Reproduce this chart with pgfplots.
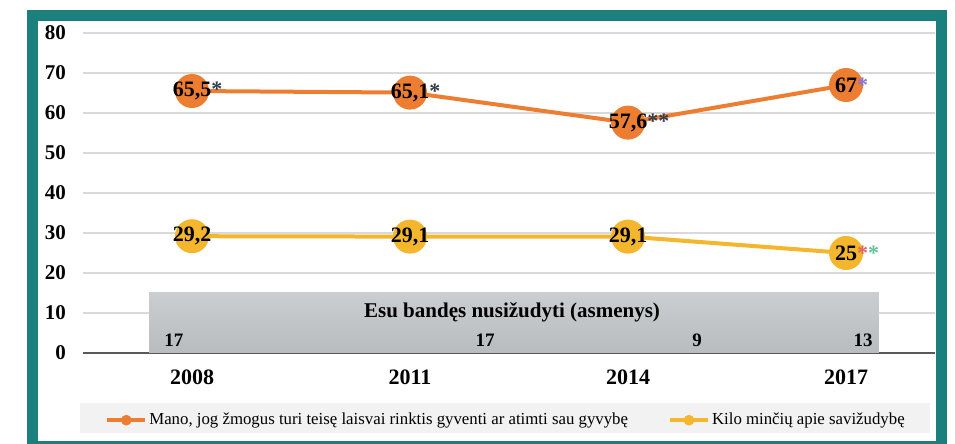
\documentclass[border=0pt]{standalone}
\usepackage{fontspec}
\setmainfont{Liberation Serif}
\usepackage{pgfplots}
\pgfplotsset{compat=1.18}
\definecolor{frameteal}{HTML}{1B7F7E}
\definecolor{lineorange}{HTML}{ED7D31}
\definecolor{lineyellow}{HTML}{F3B62C}
\definecolor{gridgray}{HTML}{D9D9D9}
\definecolor{boxtop}{HTML}{CBCED1}
\definecolor{boxbot}{HTML}{B9BCBF}
\definecolor{legbg}{HTML}{F2F2F2}
\definecolor{astpurple}{HTML}{8A74D6}
\definecolor{astred}{HTML}{E0625F}
\definecolor{astgreen}{HTML}{62C29A}
\definecolor{astdark}{HTML}{2F3A4A}

\begin{document}
\begin{tikzpicture}
  % canvas in pixels of the reference, legend background
  \begin{scope}[x=0.5pt,y=-0.5pt]
    \path[use as bounding box] (0,0) rectangle (955,444);
    \fill[legbg] (80,403) rectangle (930,433);
  \end{scope}

  \begin{axis}[
      at={(41.5pt,-176.5pt)}, anchor=south west,
      scale only axis, width=426pt, height=160pt,
      xmin=-0.5, xmax=3.408, ymin=0, ymax=80,
      xtick={0,1,2,3}, xticklabels={2008,2011,2014,2017},
      ytick={0,10,...,80},
      axis line style={draw=none},
      major tick length=0pt,
      ymajorgrids=true,
      grid style={draw=gridgray, line width=1pt},
      extra y ticks={0}, extra y tick labels={},
      extra y tick style={grid=major, grid style={draw=black!65, line width=1.3pt}},
      /pgf/number format/assume math mode=true,
      yticklabel style={font=\fontsize{10.5}{12}\selectfont\bfseries, xshift=-5pt},
      xticklabel style={font=\fontsize{11}{12}\selectfont\bfseries, yshift=-5pt},
      clip=false,
      legend style={at={(0.4965,-0.21)}, anchor=center, draw=none, fill=none,
        legend columns=2, font=\fontsize{8.4}{10}\selectfont,
        nodes={inner xsep=1pt},
        /tikz/every even column/.append style={column sep=19pt}},
      legend image code/.code={%
        \draw[mark repeat=2,mark phase=2,#1] plot coordinates {(0pt,0pt) (9.5pt,0pt) (19pt,0pt)};},
    ]
    % "Esu bandes nusizudyti" panel
    \addplot[draw=none, top color=boxtop, bottom color=boxbot, forget plot]
      coordinates {(-0.197,0) (3.151,0) (3.151,15.25) (-0.197,15.25)} \closedcycle;
    \node[font=\fontsize{10.5}{12}\selectfont\bfseries] at (axis cs:1.468,10.25)
      {Esu bandęs nusižudyti (asmenys)};
    \addplot[draw=none, mark=none, forget plot, nodes near coords, point meta=explicit symbolic,
      every node near coord/.append style={anchor=center, text=black,
        font=\fontsize{9.5}{11}\selectfont\bfseries}]
      coordinates {(-0.083,3.25)[17] (1.344,3.25)[17] (2.317,3.25)[9] (3.078,3.25)[13]};

    \addplot[lineorange, line width=2pt, mark=*, mark size=7.5pt,
      mark options={fill=lineorange, draw=none},
      legend image post style={mark size=1.6pt},
      nodes near coords, point meta=explicit symbolic,
      every node near coord/.append style={anchor=center, text=black,
        font=\fontsize{11}{12}\selectfont\bfseries}]
      coordinates {
        (0,65.5)[65,5\rlap{\textcolor{astdark}{*}}]
        (1,65.1)[65,1\rlap{\textcolor{astdark}{*}}]
        (2,57.6)[57,6\rlap{\textcolor{astdark}{**}}]
        (3,67)[67\rlap{\textcolor{astpurple}{*}}]};
    \addlegendentry{Mano, jog žmogus turi teisę laisvai rinktis gyventi ar atimti sau gyvybę}

    \addplot[lineyellow, line width=2pt, mark=*, mark size=7.5pt,
      mark options={fill=lineyellow, draw=none},
      legend image post style={mark size=1.6pt},
      nodes near coords, point meta=explicit symbolic,
      every node near coord/.append style={anchor=center, text=black,
        font=\fontsize{11}{12}\selectfont\bfseries}]
      coordinates {
        (0,29.2)[29,2]
        (1,29.1)[29,1]
        (2,29.1)[29,1]
        (3,25)[25\rlap{\textcolor{astred}{*}\textcolor{astgreen}{*}}]};
    \addlegendentry{Kilo minčių apie savižudybę}
  \end{axis}

  % teal frame
  \begin{scope}[x=0.5pt,y=-0.5pt]
    \clip (0,0) rectangle (955,444);
    \draw[frameteal, line width=5.5pt] (32.5,15.5) rectangle (941.5,446.5);
  \end{scope}
\end{tikzpicture}
\end{document}
